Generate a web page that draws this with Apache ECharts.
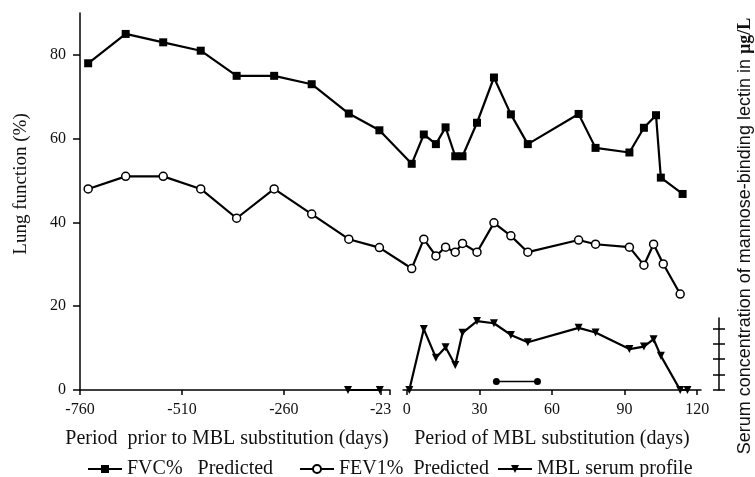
<!DOCTYPE html>
<html>
<head>
<meta charset="utf-8">
<script src="https://cdn.jsdelivr.net/npm/echarts@6/dist/echarts.min.js"></script>
<style>
  html, body { margin: 0; padding: 0; background: #fff; }
  #chart { width: 755px; height: 477px; }
</style>
</head>
<body>
<div id="chart"></div>
<script>
// ---- Data -------------------------------------------------------------
// Lung function before substitution (days relative to the first dose)
const priorDays = [-740, -648, -556, -464, -376, -284, -192, -101, -26];
const fvcPrior  = [78, 85, 83, 81, 75, 75, 73, 66, 62];
const fev1Prior = [48, 51, 51, 48, 41, 48, 42, 36, 34];

// Lung function during substitution (days)
const fvcDays = [2, 7, 12, 16, 20, 23, 29, 36, 43, 50, 71, 78, 92, 98, 103, 105, 114];
const fvc     = [54, 61, 58.7, 62.7, 55.8, 55.8, 63.8, 74.6, 65.8, 58.7, 65.9, 57.8, 56.7, 62.6, 65.6, 50.7, 46.8];
const fev1Days = [2, 7, 12, 16, 20, 23, 29, 36, 43, 50, 71, 78, 92, 98, 102, 106, 113];
const fev1     = [29, 36, 32, 34.1, 32.9, 35, 32.9, 39.9, 36.8, 32.9, 35.8, 34.8, 34.1, 29.8, 34.8, 30.1, 22.9];

// MBL serum concentration (µg/L)
const mblPriorDays = [-103, -25];
const mblPrior     = [0, 0];
const mblDays = [1, 7, 12, 16, 20, 23, 29, 36, 43, 50, 71, 78, 92, 98, 102, 105, 113, 116];
const mbl     = [0, 1980, 1050, 1390, 810, 1860, 2240, 2170, 1790, 1550, 2020, 1870, 1330, 1410, 1650, 1110, 0, 0];

// Interval bar drawn under the MBL profile (days, lung-function scale level)
const intervalDays = [37, 54];
const intervalLevel = 2;

// Tick values
const lungTicks  = [0, 20, 40, 60, 80];
const priorTicks = [-760, -510, -260, -23];
const substTicks = [0, 30, 60, 90, 120];
const mblTicks   = [0, 500, 1000, 1500, 2000];

// ---- Layout -----------------------------------------------------------
const TOP = 13, BOTTOM_Y = 390;
const PLOT_H = BOTTOM_Y - TOP;
const PRIOR = { left: 80, width: 310, min: -760, max: 0 };
const SUBST = { left: 403, width: 298, min: -1.6, max: 121.6 };
const MBL_AXIS = { left: 719, top: 318, max: 2340 };
const MBL_AXIS_H = BOTTOM_Y - MBL_AXIS.top;
const mblMainMax = MBL_AXIS.max * PLOT_H / MBL_AXIS_H;

// Broken time axis: each day is placed on the segment it belongs to.
function toPlot(d) {
  const seg = d < 0 ? PRIOR : SUBST;
  return seg.left + (d - seg.min) / (seg.max - seg.min) * seg.width;
}
function pairs(days, vals) { return days.map((d, i) => [toPlot(d), vals[i]]); }

const SERIF = '"Liberation Serif", "Times New Roman", serif';
const SANS = '"Liberation Sans", Arial, sans-serif';
const INK = '#000';
const TXT = '#111';

const fvcName = 'FVC%   Predicted';
const fevName = 'FEV1%  Predicted';
const mblName = 'MBL serum profile';

const hiddenAxis = (extra) => Object.assign({ type: 'value', show: false }, extra);

const lineBase = {
  type: 'line',
  xAxisIndex: 0,
  yAxisIndex: 0,
  symbolSize: 8,
  lineStyle: { color: INK, width: 2.2 },
  itemStyle: { color: INK },
  animation: false,
  z: 3
};

const chart = echarts.init(document.getElementById('chart'), null, { renderer: 'canvas' });

chart.setOption({
  backgroundColor: '#fff',
  animation: false,
  grid: [
    { left: PRIOR.left, width: SUBST.left + SUBST.width - PRIOR.left, top: TOP, height: PLOT_H },
    { left: PRIOR.left, width: PRIOR.width, top: TOP, height: PLOT_H },
    { left: SUBST.left, width: SUBST.width, top: TOP, height: PLOT_H },
    { left: MBL_AXIS.left, width: 1, top: MBL_AXIS.top, height: MBL_AXIS_H }
  ],
  xAxis: [
    hiddenAxis({ gridIndex: 0, min: PRIOR.left, max: SUBST.left + SUBST.width }),
    {
      type: 'value', gridIndex: 1, min: PRIOR.min, max: PRIOR.max,
      axisLine: { lineStyle: { color: INK, width: 1.5 } },
      axisTick: { length: 5, lineStyle: { color: INK, width: 1.5 }, customValues: priorTicks.concat([PRIOR.max]) },
      axisLabel: { customValues: priorTicks, color: TXT, fontFamily: SERIF, fontSize: 16, margin: 12 },
      splitLine: { show: false },
      name: 'Period  prior to MBL substitution (days)',
      nameLocation: 'middle', nameGap: 39,
      nameTextStyle: { color: TXT, fontFamily: SERIF, fontSize: 20, padding: [0, 16, 0, 0] }
    },
    {
      type: 'value', gridIndex: 2, min: SUBST.min, max: SUBST.max,
      axisLine: { lineStyle: { color: INK, width: 1.5 } },
      axisTick: { length: 5, lineStyle: { color: INK, width: 1.5 }, customValues: substTicks },
      axisLabel: { customValues: substTicks, color: TXT, fontFamily: SERIF, fontSize: 16, margin: 12 },
      splitLine: { show: false },
      name: 'Period of MBL substitution (days)',
      nameLocation: 'middle', nameGap: 39,
      nameTextStyle: { color: TXT, fontFamily: SERIF, fontSize: 20 }
    },
    hiddenAxis({ gridIndex: 3, min: 0, max: 1 })
  ],
  yAxis: [
    {
      type: 'value', gridIndex: 0, min: 0, max: 90,
      axisLine: { show: true, lineStyle: { color: INK, width: 1.5 } },
      axisTick: { show: true, length: 7, lineStyle: { color: INK, width: 1.5 }, customValues: lungTicks },
      axisLabel: { customValues: lungTicks, color: TXT, fontFamily: SERIF, fontSize: 16, margin: 14 },
      splitLine: { show: false }
    },
    hiddenAxis({ gridIndex: 0, min: 0, max: mblMainMax }),
    hiddenAxis({ gridIndex: 1, min: 0, max: 90 }),
    hiddenAxis({ gridIndex: 2, min: 0, max: 90 }),
    {
      type: 'value', gridIndex: 3, min: 0, max: MBL_AXIS.max, position: 'left',
      axisLine: { show: true, lineStyle: { color: INK, width: 1.5 } },
      axisTick: { show: true, inside: false, length: 6, lineStyle: { color: INK, width: 1.5 }, customValues: mblTicks },
      axisLabel: { show: false },
      splitLine: { show: false }
    },
    {
      type: 'value', gridIndex: 3, min: 0, max: MBL_AXIS.max, position: 'left',
      axisLine: { show: false },
      axisTick: { show: true, inside: true, length: 6, lineStyle: { color: INK, width: 1.5 }, customValues: mblTicks },
      axisLabel: { show: false },
      splitLine: { show: false }
    }
  ],
  legend: [
    { data: [fvcName], left: 87, top: 459 },
    { data: [fevName], left: 299, top: 459 },
    { data: [mblName], left: 497, top: 459 }
  ].map(l => Object.assign({
    itemWidth: 34, itemHeight: 10, padding: 0,
    textStyle: { color: TXT, fontFamily: SERIF, fontSize: 20 },
    selectedMode: false
  }, l)),
  series: [
    Object.assign({}, lineBase, {
      name: fvcName, symbol: 'rect',
      data: pairs(priorDays, fvcPrior).concat(pairs(fvcDays, fvc))
    }),
    Object.assign({}, lineBase, {
      name: fevName, symbol: 'circle',
      itemStyle: { color: '#fff', borderColor: INK, borderWidth: 1.5 },
      data: pairs(priorDays, fev1Prior).concat(pairs(fev1Days, fev1))
    }),
    Object.assign({}, lineBase, {
      name: mblName, symbol: 'triangle', symbolRotate: 180, yAxisIndex: 1,
      data: pairs(mblPriorDays, mblPrior)
    }),
    Object.assign({}, lineBase, {
      name: mblName, symbol: 'triangle', symbolRotate: 180, yAxisIndex: 1,
      data: pairs(mblDays, mbl)
    }),
    Object.assign({}, lineBase, {
      name: 'interval', symbol: 'circle', symbolSize: 7,
      lineStyle: { color: INK, width: 1.5 },
      data: pairs(intervalDays, intervalDays.map(() => intervalLevel))
    })
  ],
  graphic: [
    {
      type: 'text', x: 21, y: 184, rotation: Math.PI / 2,
      style: {
        text: 'Lung function (%)', fill: TXT,
        font: '19px ' + SERIF, align: 'center', verticalAlign: 'middle'
      }
    },
    {
      type: 'text', x: 745, y: 236, rotation: Math.PI / 2,
      style: {
        text: '{s|Serum concentration of mannose-binding lectin in }{u|µg/L}',
        fill: TXT, align: 'center', verticalAlign: 'middle',
        rich: {
          s: { fontFamily: SANS, fontSize: 18, fill: TXT },
          u: { fontFamily: SERIF, fontSize: 18, fontWeight: 'bold', fill: TXT }
        }
      }
    }
  ]
});
</script>
</body>
</html>
